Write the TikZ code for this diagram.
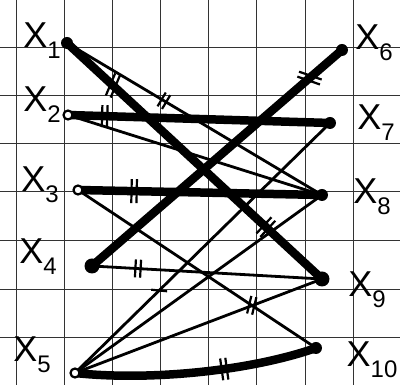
\documentclass[tikz,border=0pt]{standalone}
\usepackage{fontspec}
\setmainfont{Liberation Sans}
\newcommand{\dtick}[1]{\rule[-#1]{2.2pt}{2\dimexpr#1\relax}\hspace{3pt}\rule[-#1]{2.2pt}{2\dimexpr#1\relax}}
\newcommand{\lbl}[2]{X\raisebox{-11pt}{\fontsize{24}{24}\selectfont #2}}
\begin{document}
\begin{tikzpicture}[x=1pt,y=1pt,
  gridline/.style={black!80, line width=0.9pt},
  heavy/.style={line width=8.5pt, line cap=round},
  light/.style={line width=2.8pt, line cap=round},
  vtx/.style={circle, fill=black, inner sep=0pt, minimum size=12pt},
  ovtx/.style={circle, draw=black, fill=white, line width=2.2pt, inner sep=0pt, minimum size=9pt},
  lab/.style={font=\fontsize{36}{36}\selectfont, inner sep=0pt},
  tk/.style={sloped, inner sep=0pt, anchor=center}
]
\useasboundingbox (0,0) rectangle (400,385);
\fill[white] (0,0) rectangle (400,385);
% grid
\foreach \gx in {16,64,112,160,208,256,305,353}
  \draw[gridline] (\gx,0) -- (\gx,385);
\foreach \gy in {48,96,145,194,242,290,338}
  \draw[gridline] (0,\gy) -- (400,\gy);
% vertices
\coordinate (v1) at (67,342);
\coordinate (v2) at (68,270);
\coordinate (v3) at (78,195);
\coordinate (v4) at (92,119);
\coordinate (v5) at (75,12);
\coordinate (v6) at (342,335);
\coordinate (v7) at (330,262);
\coordinate (v8) at (322,190);
\coordinate (v9) at (322,106);
\coordinate (v10) at (316,37);
% light edges
\draw[light] (v1) -- (v8) node[tk,pos=0.38] {\dtick{8pt}};
\draw[light] (v2) -- (v8);
\draw[light] (v3) -- (v10) node[tk,pos=0.73,rotate=20] {\dtick{9pt}};
\draw[light] (v4) -- (v9) node[tk,pos=0.2] {\dtick{9pt}};
\draw[light] (v5) -- (v7) node[tk,pos=0.33,rotate=40] {\rule[-8pt]{2.2pt}{16pt}};
\draw[light] (v5) -- (v8);
\draw[light] (v5) -- (v9);
% heavy edges
\draw[heavy] (v1) -- (v9) node[tk,pos=0.18,rotate=20] {\dtick{12pt}} node[tk,pos=0.78] {\dtick{11pt}};
\draw[heavy] (v2) -- (v7) node[tk,pos=0.14] {\dtick{11pt}};
\draw[heavy] (v3) -- (v8) node[tk,pos=0.23] {\dtick{12pt}};
\draw[heavy] (v4) -- (v6) node[tk,pos=0.87,rotate=30] {\dtick{12pt}};
\draw[heavy] (v5) .. controls (150,4) and (250,14) .. (v10) node[tk,pos=0.6] {\dtick{11pt}};
% dots
\node[vtx] (d1) at (v1) {};
\node[ovtx] (d2) at (v2) {};
\node[ovtx] (d3) at (v3) {};
\node[vtx, minimum size=15pt] (d4) at (v4) {};
\node[ovtx] (d5) at (v5) {};
\node[vtx] (d6) at (v6) {};
\node[vtx] (d7) at (v7) {};
\node[vtx] (d8) at (v8) {};
\node[vtx, minimum size=15pt] (d9) at (v9) {};
\node[vtx] (d10) at (v10) {};
% labels
\node[lab] (l1) at (42,344) {\lbl{}{1}};
\node[lab] (l2) at (42,280) {\lbl{}{2}};
\node[lab] (l3) at (40,200) {\lbl{}{3}};
\node[lab] (l4) at (38,128) {\lbl{}{4}};
\node[lab] (l5) at (32,30) {\lbl{}{5}};
\node[lab] (l6) at (374,342) {\lbl{}{6}};
\node[lab] (l7) at (376,262) {\lbl{}{7}};
\node[lab] (l8) at (372,188) {\lbl{}{8}};
\node[lab] (l9) at (367,95) {\lbl{}{9}};
\node[lab] (l10) at (372,25) {\lbl{}{10}};
\end{tikzpicture}
\end{document}
